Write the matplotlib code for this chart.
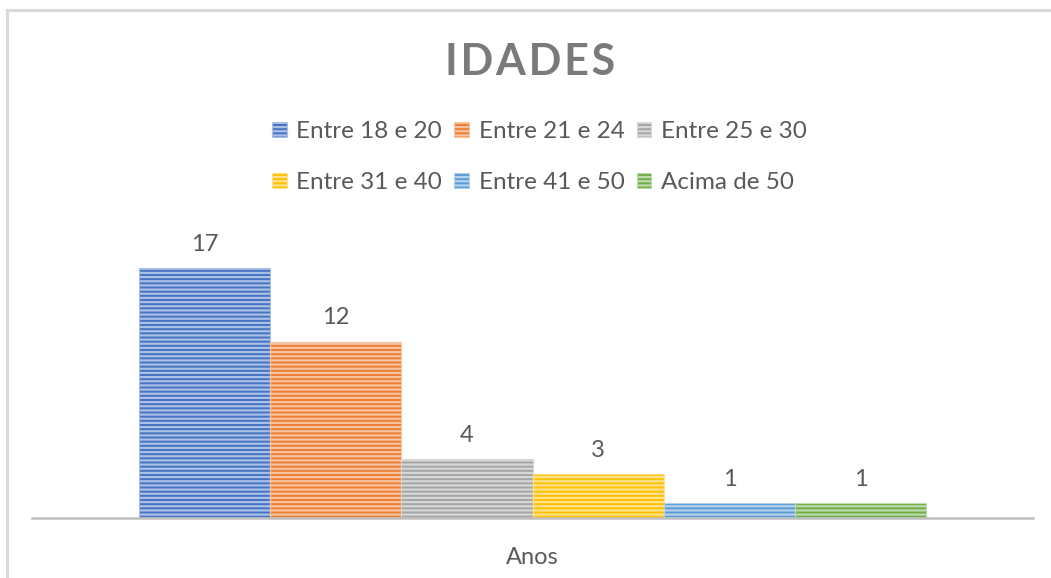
import matplotlib
matplotlib.use("Agg")
import matplotlib.pyplot as plt
from matplotlib.patches import Rectangle
import matplotlib.colors as mcolors
import numpy as np

plt.rcParams['font.family'] = ['Lato', 'DejaVu Sans']
plt.rcParams['hatch.linewidth'] = 1.6

title = "IDADES"
category = "Anos"
series = ["Entre 18 e 20", "Entre 21 e 24", "Entre 25 e 30",
          "Entre 31 e 40", "Entre 41 e 50", "Acima de 50"]
values = [17, 12, 4, 3, 1, 1]
colors = ["#4472C4", "#ED7D31", "#A5A5A5", "#FFC000", "#5B9BD5", "#70AD47"]

W, H = 1051, 578
fig = plt.figure(figsize=(W / 100, H / 100), dpi=100)
fig.patch.set_facecolor("white")

# outer chart frame (only top/left visible in the crop)
fig.patches.append(Rectangle((7 / W, -0.5), 2.0, (H - 10) / H + 0.5,
                             transform=fig.transFigure, fill=False,
                             edgecolor="#d9d9d9", linewidth=2.2))

ax_left, ax_right = 32 / W, 1033 / W
ax_bottom = (H - 518) / H
ax_top = (H - 224) / H
ax = fig.add_axes([ax_left, ax_bottom, ax_right - ax_left, ax_top - ax_bottom])
ax.set_xlim(-0.5, 0.5)
ax.set_ylim(0, 20)

n = len(series)
group = 0.787
w = group / n
text_color = "#595959"
handles = []
for i, (lab, v, c) in enumerate(zip(series, values, colors)):
    x = (i - (n - 1) / 2) * w
    rgb = np.array(mcolors.to_rgb(c))
    light = tuple(rgb + (1 - rgb) * 0.55)
    b = ax.bar(x, v, width=w, color=c, edgecolor=light, hatch="----",
               linewidth=0.8, label=lab)
    handles.append(b)
    ax.annotate(str(v), (x, v), xytext=(0, 9.5), textcoords="offset points",
                ha="center", va="bottom", fontsize=17, color=text_color)

for s in ["left", "right", "top"]:
    ax.spines[s].set_visible(False)
ax.spines["bottom"].set_color("#bfbfbf")
ax.spines["bottom"].set_linewidth(1.8)
ax.set_yticks([])
ax.set_xticks([0])
ax.set_xticklabels([category], fontsize=17, color=text_color)
ax.tick_params(axis="x", length=0, pad=21)

fig.text(0.5 + 5 / W, (H - 62) / H, "\u200a".join(title), ha="center", va="center",
         fontsize=31, fontweight="bold", color="#7a7a7a")

# legend filled row by row (3 per row)
ncol = 3
order = [r * ncol + c for c in range(ncol) for r in range(2)]
leg = fig.legend([handles[k] for k in order], [series[k] for k in order],
                 loc="center", bbox_to_anchor=(0.5 + 14 / W, (H - 157) / H), ncol=ncol,
                 frameon=False, fontsize=17.5, handlelength=0.6, handleheight=0.6,
                 handletextpad=0.4, columnspacing=0.5, labelspacing=1.25)
for t in leg.get_texts():
    t.set_color(text_color)

fig.savefig("out.png", dpi=100)
